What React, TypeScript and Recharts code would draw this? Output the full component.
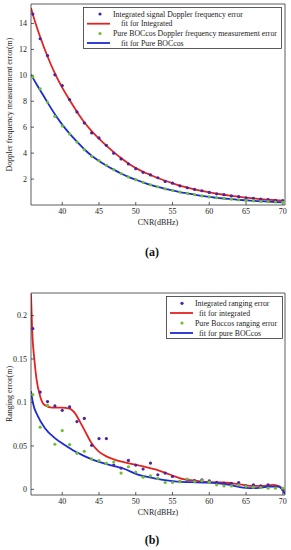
import React from 'react';
import { ComposedChart, Line, Scatter, XAxis, YAxis } from 'recharts';

const FONT = "'Liberation Serif','Times New Roman',serif";

// ---------- (a) Doppler frequency measurement error ----------
const cnrA = [36, 37, 38, 39, 40, 41, 42, 43, 44, 45, 46, 47, 48, 49, 50, 51, 52, 53, 54, 55, 56, 57, 58, 59, 60, 61, 62, 63, 64, 65, 66, 67, 68, 69, 70];
const integratedDoppler = [14.72, 12.82, 11.53, 10.04, 9.21, 8.13, 7.18, 6.33, 5.56, 5.17, 4.6, 4.0, 3.55, 3.17, 2.8, 2.52, 2.32, 2.1, 1.82, 1.68, 1.48, 1.33, 1.2, 1.1, 0.97, 0.86, 0.8, 0.7, 0.64, 0.56, 0.52, 0.45, 0.42, 0.36, 0.33];
const pureDoppler = [9.88, 8.96, 7.92, 6.84, 6.1, 5.48, 4.86, 4.27, 3.75, 3.42, 3.06, 2.73, 2.42, 2.16, 1.95, 1.75, 1.56, 1.4, 1.25, 1.12, 1.0, 0.9, 0.8, 0.7, 0.62, 0.56, 0.5, 0.45, 0.4, 0.36, 0.32, 0.29, 0.26, 0.23, 0.2];
const fitCnrA = [35.75, 36, 37, 38, 39, 40, 41, 42, 43, 44, 45, 46, 47, 48, 49, 50, 51, 52, 53, 54, 55, 56, 57, 58, 59, 60, 61, 62, 63, 64, 65, 66, 67, 68, 69, 70];
const fitIntegratedA = [15.2, 14.7, 12.95, 11.45, 10.15, 9.05, 8.1, 7.2, 6.38, 5.7, 5.12, 4.58, 4.08, 3.62, 3.2, 2.85, 2.56, 2.32, 2.08, 1.87, 1.68, 1.5, 1.35, 1.21, 1.09, 0.98, 0.88, 0.79, 0.71, 0.64, 0.57, 0.51, 0.46, 0.41, 0.37, 0.33];
const fitPureA = [10.05, 9.8, 8.85, 7.9, 7.0, 6.2, 5.5, 4.88, 4.3, 3.8, 3.4, 3.05, 2.73, 2.43, 2.17, 1.95, 1.74, 1.55, 1.39, 1.25, 1.12, 1.0, 0.9, 0.8, 0.7, 0.62, 0.56, 0.5, 0.45, 0.4, 0.36, 0.32, 0.29, 0.26, 0.23, 0.2];
const yTicksA = [2, 4, 6, 8, 10, 12, 14];

// ---------- (b) Ranging error ----------
const cnrB = [36, 37, 38, 39, 40, 41, 42, 43, 44, 45, 46, 47, 48, 49, 50, 51, 52, 53, 54, 55, 56, 57, 58, 59, 60, 61, 62, 63, 64, 65, 66, 67, 68, 69, 70];
const integratedRanging = [0.185, 0.112, 0.101, 0.096, 0.091, 0.095, 0.078, 0.0816, 0.0507, 0.0584, 0.0584, 0.028, 0.0245, 0.0333, 0.028, 0.0234, 0.0303, 0.0168, 0.0187, 0.0148, 0.009, 0.011, 0.01, 0.011, 0.0098, 0.008, 0.007, 0.007, 0.0079, 0.004, 0.0052, 0.004, 0.0052, 0.003, 0.0];
const pureRanging = [0.109, 0.0716, 0.0966, 0.0519, 0.0677, 0.0515, 0.0415, 0.0438, 0.035, 0.033, 0.03, 0.0315, 0.0187, 0.026, 0.02, 0.014, 0.0156, 0.0126, 0.0079, 0.0079, 0.009, 0.0118, 0.009, 0.01, 0.0083, 0.0052, 0.004, 0.004, 0.005, 0.0035, 0.0025, 0.002, 0.0014, 0.0014, 0.0014];
const fitIntCnrB = [35.75, 35.9, 36.2, 36.5, 37, 37.6, 38.6, 39.9, 41, 41.7, 42.4, 43.1, 44, 44.9, 46, 47.2, 48.5, 51, 52.8, 54.7, 56.5, 58.3, 60.1, 61.9, 63.7, 65.5, 67.3, 68.7, 69.6, 70.3];
const fitIntegratedB = [0.225, 0.185, 0.15, 0.127, 0.107, 0.097, 0.094, 0.094, 0.093, 0.088, 0.078, 0.067, 0.053, 0.044, 0.038, 0.034, 0.031, 0.0264, 0.0226, 0.0168, 0.0118, 0.0098, 0.0083, 0.0079, 0.0064, 0.004, 0.004, 0.0052, 0.0032, -0.005];
const fitPureCnrB = [35.75, 36, 36.7, 37.6, 39, 40.4, 41.7, 43.1, 44.4, 45.8, 47.2, 48.5, 50.1, 51.9, 53.7, 55.6, 57.4, 59.2, 61, 62.8, 64.6, 66.4, 68.2, 69.4, 70.3];
const fitPureB = [0.113, 0.1, 0.084, 0.071, 0.059, 0.0507, 0.0438, 0.038, 0.0333, 0.0295, 0.0264, 0.0234, 0.0176, 0.0137, 0.011, 0.009, 0.0083, 0.0079, 0.0072, 0.0052, 0.0021, 0.0014, 0.0032, 0.0032, -0.005];
const yTicksB = [0, 0.05, 0.1, 0.15, 0.2];

const xTicks = [40, 45, 50, 55, 60, 65, 70];
const xDomain: [number, number] = [35.75, 70.3];

const PURPLE = '#4b22a0';
const GREEN = '#6cc033';
const RED = '#e2231f';
const BLUE = '#1c2bd4';
const AX = '#333';

const zip = (xs: number[], ys: number[]) => xs.map((x, i) => ({ x, y: ys[i] }));

const tickStyle = { fontSize: 8, fontFamily: FONT, fill: '#222' };
const dotShape = (color: string) => (p: any) => <circle cx={p.cx} cy={p.cy} r={1.6} fill={color} />;

type PanelProps = {
  height: number;
  marginTop: number;
  yDomain: [number, number];
  yTicks: number[];
  yLabel: string;
  ptsInt: { x: number; y: number }[];
  ptsPure: { x: number; y: number }[];
  fitInt: { x: number; y: number }[];
  fitPure: { x: number; y: number }[];
};

function Panel(p: PanelProps) {
  return (
    <ComposedChart width={291} height={p.height} margin={{ top: p.marginTop, right: 5, left: 0, bottom: 35 }}>
      <XAxis
        xAxisId="b"
        dataKey="x"
        type="number"
        domain={xDomain}
        ticks={xTicks}
        allowDataOverflow
        stroke={AX}
        strokeWidth={0.8}
        tickSize={-3}
        tickMargin={6}
        tick={tickStyle}
        height={20}
        label={{ value: 'CNR(dBHz)', position: 'insideBottom', offset: 0, style: { fontSize: 8, fontFamily: FONT, fill: '#222' } }}
      />
      <XAxis
        xAxisId="t"
        orientation="top"
        dataKey="x"
        type="number"
        domain={xDomain}
        ticks={xTicks}
        allowDataOverflow
        stroke={AX}
        strokeWidth={0.8}
        tickSize={-3}
        tick={false}
        height={1}
      />
      <YAxis
        yAxisId="l"
        type="number"
        domain={p.yDomain}
        ticks={p.yTicks}
        allowDataOverflow
        stroke={AX}
        strokeWidth={0.8}
        tickSize={-3}
        tickMargin={7}
        tick={tickStyle}
        width={31}
        label={{ value: p.yLabel, angle: -90, position: 'insideLeft', offset: 9, style: { textAnchor: 'middle', fontSize: 8, fontFamily: FONT, fill: '#222' } }}
      />
      <YAxis
        yAxisId="r"
        orientation="right"
        type="number"
        domain={p.yDomain}
        ticks={p.yTicks}
        allowDataOverflow
        stroke={AX}
        strokeWidth={0.8}
        tickSize={-3}
        tick={false}
        width={1}
      />
      <Line xAxisId="b" yAxisId="l" data={p.fitInt} dataKey="y" type="monotone" stroke={RED} strokeWidth={1.8} dot={false} isAnimationActive={false} />
      <Line xAxisId="b" yAxisId="l" data={p.fitPure} dataKey="y" type="monotone" stroke={BLUE} strokeWidth={1.8} dot={false} isAnimationActive={false} />
      <Scatter xAxisId="b" yAxisId="l" data={p.ptsInt} dataKey="y" shape={dotShape(PURPLE)} isAnimationActive={false} />
      <Scatter xAxisId="b" yAxisId="l" data={p.ptsPure} dataKey="y" shape={dotShape(GREEN)} isAnimationActive={false} />
    </ComposedChart>
  );
}

type LegendItem = { kind: 'dot' | 'line'; color: string; label: string; y: number; textX: number };

function LegendBox({ x, y, w, h, markX1, markX2, dotX, items }: { x: number; y: number; w: number; h: number; markX1: number; markX2: number; dotX: number; items: LegendItem[] }) {
  return (
    <svg width={291} height={550} style={{ position: 'absolute', left: 0, top: 0, pointerEvents: 'none' }}>
      <rect x={x} y={y} width={w} height={h} fill="#fff" stroke={AX} strokeWidth={0.8} />
      {items.map((it, i) => (
        <g key={i}>
          {it.kind === 'dot' ? (
            <circle cx={dotX} cy={it.y} r={1.6} fill={it.color} />
          ) : (
            <line x1={markX1} x2={markX2} y1={it.y} y2={it.y} stroke={it.color} strokeWidth={1.8} />
          )}
          <text x={it.textX} y={it.y} dominantBaseline="central" fontSize={7.8} fontFamily={FONT} fill="#222">
            {it.label}
          </text>
        </g>
      ))}
    </svg>
  );
}

const legendA: LegendItem[] = [
  { kind: 'dot', color: PURPLE, label: 'Integrated signal Doppler frequency error', y: 14, textX: 113 },
  { kind: 'line', color: RED, label: 'fit for Integrated', y: 23.7, textX: 121 },
  { kind: 'dot', color: GREEN, label: 'Pure BOCcos Doppler frequency measurement error', y: 33.5, textX: 113 },
  { kind: 'line', color: BLUE, label: 'fit for Pure BOCcos', y: 43, textX: 121 },
];

const legendB: LegendItem[] = [
  { kind: 'dot', color: PURPLE, label: 'Integrated ranging error', y: 303.3, textX: 195 },
  { kind: 'line', color: RED, label: 'fit for integrated', y: 313, textX: 199 },
  { kind: 'dot', color: GREEN, label: 'Pure Boccos ranging error', y: 323, textX: 195 },
  { kind: 'line', color: BLUE, label: 'fit for pure BOCcos', y: 333, textX: 199 },
];

export default function App() {
  return (
    <div style={{ position: 'absolute', left: 0, top: 0, width: 291, height: 550, background: '#fff', overflow: 'hidden' }}>
      <div style={{ position: 'absolute', left: 0, top: 0 }}>
        <Panel
          height={260}
          marginTop={3}
          yDomain={[0, 15.5]}
          yTicks={yTicksA}
          yLabel="Doppler frequency measurement error(m)"
          ptsInt={zip(cnrA, integratedDoppler)}
          ptsPure={zip(cnrA, pureDoppler)}
          fitInt={zip(fitCnrA, fitIntegratedA)}
          fitPure={zip(fitCnrA, fitPureA)}
        />
      </div>
      <div style={{ position: 'absolute', left: 0, top: 280 }}>
        <Panel
          height={270}
          marginTop={12}
          yDomain={[-0.0065, 0.226]}
          yTicks={yTicksB}
          yLabel="Ranging error(m)"
          ptsInt={zip(cnrB, integratedRanging)}
          ptsPure={zip(cnrB, pureRanging)}
          fitInt={zip(fitIntCnrB, fitIntegratedB)}
          fitPure={zip(fitPureCnrB, fitPureB)}
        />
      </div>
      <LegendBox x={83.5} y={7.5} w={198} h={41} markX1={87} markX2={110} dotX={100} items={legendA} />
      <LegendBox x={166.5} y={296.5} w={116} h={42} markX1={170} markX2={193} dotX={182} items={legendB} />
      <div style={{ position: 'absolute', left: 0, width: 304, top: 244, textAlign: 'center', fontFamily: FONT, fontSize: 12, fontWeight: 'bold', color: '#111', lineHeight: '16px' }}>(a)</div>
      <div style={{ position: 'absolute', left: 0, width: 304, top: 532, textAlign: 'center', fontFamily: FONT, fontSize: 12, fontWeight: 'bold', color: '#111', lineHeight: '16px' }}>(b)</div>
    </div>
  );
}
